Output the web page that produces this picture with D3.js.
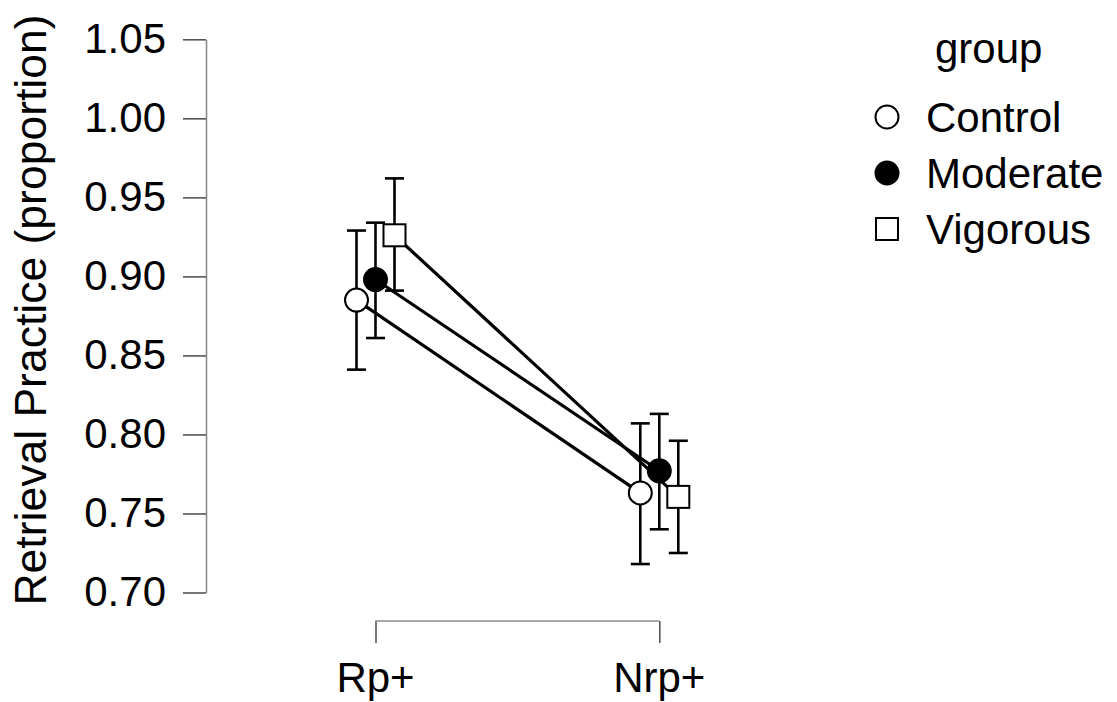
<!DOCTYPE html>
<html>
<head>
<meta charset="utf-8">
<script src="https://cdn.jsdelivr.net/npm/d3@7"></script>
<style>
  html, body { margin: 0; padding: 0; background: #fff; }
  svg { display: block; font-family: "Liberation Sans", Arial, sans-serif; }
</style>
</head>
<body>
<svg id="chart" width="1117" height="702"></svg>
<script>
const conditions = ["Rp+", "Nrp+"];
const groups = ["Control", "Moderate", "Vigorous"];
const means = {
  Control:  [0.885, 0.763],
  Moderate: [0.898, 0.777],
  Vigorous: [0.926, 0.7605]
};
const upper = {
  Control:  [0.929, 0.807],
  Moderate: [0.934, 0.813],
  Vigorous: [0.962, 0.796]
};
const lower = {
  Control:  [0.841, 0.718],
  Moderate: [0.861, 0.740],
  Vigorous: [0.891, 0.725]
};
const yTicks = [0.70, 0.75, 0.80, 0.85, 0.90, 0.95, 1.00, 1.05];
const yLabel = "Retrieval Practice (proportion)";
const legendTitle = "group";

const svg = d3.select("#chart");
const FS = 42;

const y = d3.scaleLinear().domain([0.70, 1.05]).range([592.5, 39.3]);
const x = d3.scalePoint().domain(conditions).range([375.5, 659.3]);
const dodge = d3.scalePoint().domain(groups).range([-19, 19]);

// Y axis
const yAxis = d3.axisLeft(y).tickValues(yTicks).tickFormat(d3.format(".2f")).tickSize(23).tickSizeOuter(0).tickPadding(17);
const gy = svg.append("g").attr("transform", "translate(206,0)").call(yAxis);
gy.select(".domain").attr("stroke", "#8c8c8c").attr("stroke-width", 1.6);
gy.selectAll(".tick line").attr("stroke", "#555").attr("stroke-width", 1.6);
gy.selectAll(".tick text").attr("font-size", FS).attr("fill", "#000")
  .attr("font-family", "Liberation Sans, Arial, sans-serif");

// X axis (bracket)
const xAxis = d3.axisBottom(x).tickSize(-22).tickSizeOuter(0).tickPadding(0).tickFormat("");
const gx = svg.append("g").attr("transform", "translate(0,643)").call(xAxis);
gx.select(".domain").remove();
gx.selectAll(".tick line").attr("stroke", "#555").attr("stroke-width", 1.6);
svg.append("line")
  .attr("x1", x(conditions[0])).attr("x2", x(conditions[1]))
  .attr("y1", 621).attr("y2", 621)
  .attr("stroke", "#8c8c8c").attr("stroke-width", 1.6);
svg.selectAll(".xlab").data(conditions).enter().append("text")
  .attr("x", d => x(d)).attr("y", 692)
  .attr("text-anchor", "middle").attr("font-size", FS).attr("fill", "#000")
  .text(d => d);

// Y label
svg.append("text")
  .attr("transform", "translate(46,310) rotate(-90)")
  .attr("text-anchor", "middle").attr("font-size", 44.5).attr("fill", "#000")
  .text(yLabel);

// lines
const line = d3.line().x(d => d.x).y(d => d.y);
groups.forEach(g => {
  const pts = conditions.map((c, i) => ({ x: x(c) + dodge(g), y: y(means[g][i]) }));
  svg.append("path").attr("d", line(pts)).attr("fill", "none")
    .attr("stroke", "#000").attr("stroke-width", 3.2);
});

// error bars
const capW = 9.5;
groups.forEach(g => {
  conditions.forEach((c, i) => {
    const cx = x(c) + dodge(g);
    const eg = svg.append("g").attr("stroke", "#000").attr("stroke-width", 2.6);
    eg.append("line").attr("x1", cx).attr("x2", cx).attr("y1", y(upper[g][i])).attr("y2", y(lower[g][i]));
    eg.append("line").attr("x1", cx - capW).attr("x2", cx + capW).attr("y1", y(upper[g][i])).attr("y2", y(upper[g][i]));
    eg.append("line").attr("x1", cx - capW).attr("x2", cx + capW).attr("y1", y(lower[g][i])).attr("y2", y(lower[g][i]));
  });
});

function drawSymbol(sel, g, cx, cy) {
  if (g === "Vigorous") {
    sel.append("rect").attr("x", cx - 11).attr("y", cy - 11).attr("width", 22).attr("height", 22)
      .attr("fill", "#fff").attr("stroke", "#000").attr("stroke-width", 2);
  } else {
    sel.append("circle").attr("cx", cx).attr("cy", cy).attr("r", 11.5)
      .attr("fill", g === "Moderate" ? "#000" : "#fff").attr("stroke", "#000").attr("stroke-width", 2);
  }
}

groups.forEach(g => {
  conditions.forEach((c, i) => {
    drawSymbol(svg, g, x(c) + dodge(g), y(means[g][i]));
  });
});

// legend
svg.append("text").attr("x", 935).attr("y", 63).attr("font-size", FS).attr("fill", "#000").text(legendTitle);
const legY = d3.scalePoint().domain(groups).range([117, 229]);
groups.forEach(g => {
  drawSymbol(svg, g, 887, legY(g));
  svg.append("text").attr("x", 926).attr("y", legY(g) + 15).attr("font-size", FS).attr("fill", "#000").text(g);
});
</script>
</body>
</html>
